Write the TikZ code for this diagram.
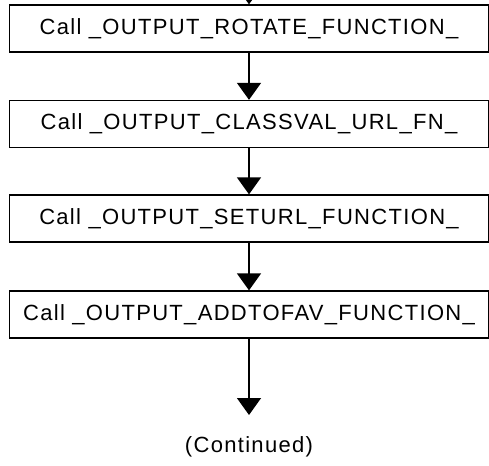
\documentclass[tikz,border=0pt]{standalone}
\usepackage{fontspec}
\setmainfont{Liberation Sans}[LetterSpace=6]
\usetikzlibrary{arrows.meta}
\begin{document}
\begin{tikzpicture}[x=1pt,y=-1pt,
  callbox/.style={draw, line width=1.3pt, minimum width=479pt, minimum height=47pt,
    inner sep=0pt, font=\fontsize{22}{26}\selectfont},
  flow/.style={line width=1.5pt, -{Triangle[width=24pt,length=17pt]}},
  note/.style={font=\fontsize{22}{26}\selectfont, inner sep=0pt}]
\useasboundingbox (0,0) rectangle (489,465);
\clip (0,0) rectangle (489,465);

% the call sequence
\node[callbox] (b1) at (249,28.5)  {Call \_OUTPUT\_ROTATE\_FUNCTION\_};
\node[callbox] (b2) at (249,124)   {Call \_OUTPUT\_CLASSVAL\_URL\_FN\_};
\node[callbox] (b3) at (249,218.5) {Call \_OUTPUT\_SETURL\_FUNCTION\_};
\node[callbox] (b4) at (249,314.5) {Call \_OUTPUT\_ADDTOFAV\_FUNCTION\_};
\node[note] (cont) at (249,447) {(Continued)};

\coordinate (entry) at (249,-40);
\coordinate (contTip) at (249,415);

% connectors
\draw[flow] (entry) -- (b1.north);
\draw[flow] (b1.south) -- (b2.north);
\draw[flow] (b2.south) -- (b3.north);
\draw[flow] (b3.south) -- (b4.north);
\draw[flow] (b4.south) -- (contTip);
\end{tikzpicture}
\end{document}
